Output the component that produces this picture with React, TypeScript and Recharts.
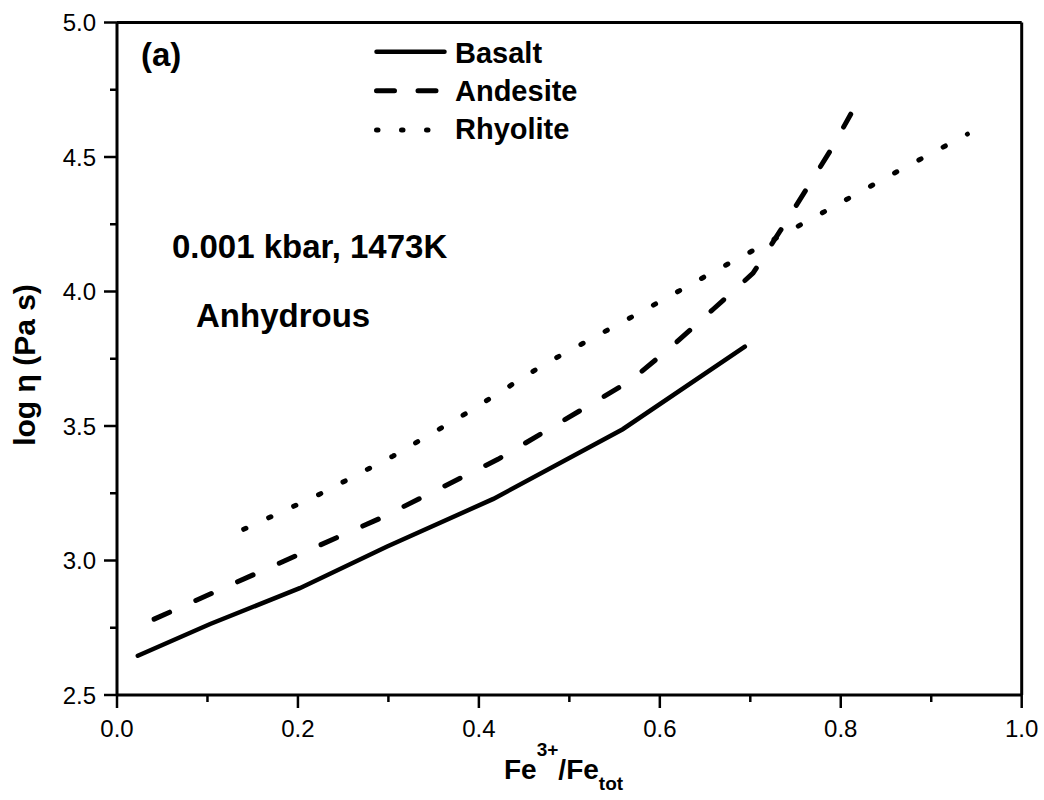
import React from 'react';
import { LineChart, Line, XAxis, YAxis } from 'recharts';

const basaltX = [0.023, 0.103, 0.202, 0.298, 0.416, 0.559, 0.694];
const basaltY = [2.646, 2.764, 2.897, 3.051, 3.229, 3.488, 3.795];

const andesiteX = [0.041, 0.154, 0.291, 0.421, 0.567, 0.613, 0.659, 0.703, 0.733, 0.762, 0.79, 0.811];
const andesiteY = [2.782, 2.952, 3.157, 3.376, 3.667, 3.795, 3.934, 4.068, 4.225, 4.38, 4.532, 4.659];

const rhyoliteX = [0.14, 0.222, 0.305, 0.388, 0.471, 0.582, 0.663, 0.747, 0.857, 0.94];
const rhyoliteY = [3.116, 3.243, 3.388, 3.551, 3.727, 3.929, 4.08, 4.232, 4.436, 4.585];

const xTicks = [0, 0.1, 0.2, 0.3, 0.4, 0.5, 0.6, 0.7, 0.8, 0.9, 1.0];
const yTicks = [2.5, 2.75, 3.0, 3.25, 3.5, 3.75, 4.0, 4.25, 4.5, 4.75, 5.0];

const FONT = '"Liberation Sans", Arial, sans-serif';

const toPoints = (xs: number[], ys: number[]) => xs.map((x, i) => ({ x, y: ys[i] }));

const series = [
  { name: 'Basalt', data: toPoints(basaltX, basaltY), dash: undefined, legendDash: undefined },
  { name: 'Andesite', data: toPoints(andesiteX, andesiteY), dash: '17 28.7', legendDash: '18 23.5' },
  { name: 'Rhyolite', data: toPoints(rhyoliteX, rhyoliteY), dash: '2.5 25', legendDash: '1.5 23.5' },
];

const isMajor = (v: number, step: number) => Math.abs(v / step - Math.round(v / step)) < 1e-6;

const BottomTick = ({ x, y, payload }: any) => {
  const v = payload.value;
  const major = isMajor(v, 0.2);
  return (
    <g>
      <line x1={x} x2={x} y1={y} y2={y + (major ? 13 : 7)} stroke="#000" strokeWidth={2.5} />
      {major && (
        <text x={x} y={y + 42} textAnchor="middle" fontFamily={FONT} fontSize={24} fill="#000">
          {v.toFixed(1)}
        </text>
      )}
    </g>
  );
};

const TopTick = ({ x, y, payload }: any) => {
  const major = isMajor(payload.value, 0.2);
  return <line x1={x} x2={x} y1={y} y2={y - (major ? 2 : 7)} stroke="#000" strokeWidth={2.5} />;
};

const LeftTick = ({ x, y, payload }: any) => {
  const v = payload.value;
  const major = isMajor(v, 0.5);
  return (
    <g>
      <line x1={x} x2={x - (major ? 13 : 7)} y1={y} y2={y} stroke="#000" strokeWidth={2.5} />
      {major && (
        <text x={x - 21} y={y + 8.5} textAnchor="end" fontFamily={FONT} fontSize={24} fill="#000">
          {v.toFixed(1)}
        </text>
      )}
    </g>
  );
};

const RightTick = ({ x, y }: any) => (
  <line x1={x} x2={x + 3} y1={y} y2={y} stroke="#000" strokeWidth={2} />
);

export default function App() {
  return (
    <div style={{ position: 'absolute', left: 0, top: 0, width: 1044, height: 800, background: '#fff' }}>
      <LineChart width={1044} height={800} margin={{ top: 0, right: 0, bottom: 0, left: 0 }}>
        <XAxis
          type="number"
          dataKey="x"
          domain={[0, 1]}
          ticks={xTicks}
          interval={0}
          height={105}
          tickSize={0}
          tickMargin={0}
          tickLine={false}
          tick={<BottomTick />}
          axisLine={{ stroke: '#000', strokeWidth: 3 }}
        />
        <XAxis
          xAxisId="top"
          orientation="top"
          type="number"
          domain={[0, 1]}
          ticks={xTicks}
          interval={0}
          height={22.5}
          tickSize={0}
          tickMargin={0}
          tickLine={false}
          tick={<TopTick />}
          axisLine={{ stroke: '#000', strokeWidth: 3 }}
        />
        <YAxis
          type="number"
          domain={[2.5, 5]}
          ticks={yTicks}
          interval={0}
          width={117}
          tickSize={0}
          tickMargin={0}
          tickLine={false}
          tick={<LeftTick />}
          axisLine={{ stroke: '#000', strokeWidth: 3 }}
        />
        <YAxis
          yAxisId="right"
          orientation="right"
          type="number"
          domain={[2.5, 5]}
          ticks={yTicks}
          interval={0}
          width={22.3}
          tickSize={0}
          tickMargin={0}
          tickLine={false}
          tick={<RightTick />}
          axisLine={{ stroke: '#000', strokeWidth: 3 }}
        />
        {series.map(s => (
          <Line
            key={s.name}
            data={s.data}
            dataKey="y"
            name={s.name}
            type="linear"
            stroke="#000"
            strokeWidth={s.name === 'Basalt' ? 4.5 : 5}
            strokeDasharray={s.dash}
            strokeLinecap="round"
            dot={false}
            activeDot={false}
            isAnimationActive={false}
          />
        ))}
      </LineChart>

      <svg
        width={1044}
        height={800}
        style={{ position: 'absolute', left: 0, top: 0, pointerEvents: 'none' }}
        fontFamily={FONT}
      >
        <text x={141} y={66} fontSize={33} fontWeight="bold">(a)</text>
        <text x={172} y={258} fontSize={33} fontWeight="bold">0.001 kbar, 1473K</text>
        <text x={196} y={327} fontSize={33} fontWeight="bold">Anhydrous</text>

        {series.map((s, i) => {
          const ly = [51.7, 90.7, 130][i];
          const by = [63, 101, 139][i];
          return (
            <g key={s.name}>
              <line
                x1={376.5}
                x2={444.5}
                y1={ly}
                y2={ly}
                stroke="#000"
                strokeWidth={i === 0 ? 4.5 : 5}
                strokeDasharray={s.legendDash}
                strokeLinecap="round"
              />
              <text x={455} y={by} fontSize={29} fontWeight="bold">{s.name}</text>
            </g>
          );
        })}

        <text
          x={35}
          y={365}
          transform="rotate(-90 35 365)"
          textAnchor="middle"
          fontSize={30}
          fontWeight="bold"
        >
          log η (Pa s)
        </text>

        <text x={504} y={779} fontSize={28} fontWeight="bold">
          <tspan>Fe</tspan>
          <tspan fontSize={19} dy={-23}>3+</tspan>
          <tspan dy={23}>/Fe</tspan>
          <tspan fontSize={19} dy={11}>tot</tspan>
        </text>
      </svg>
    </div>
  );
}
